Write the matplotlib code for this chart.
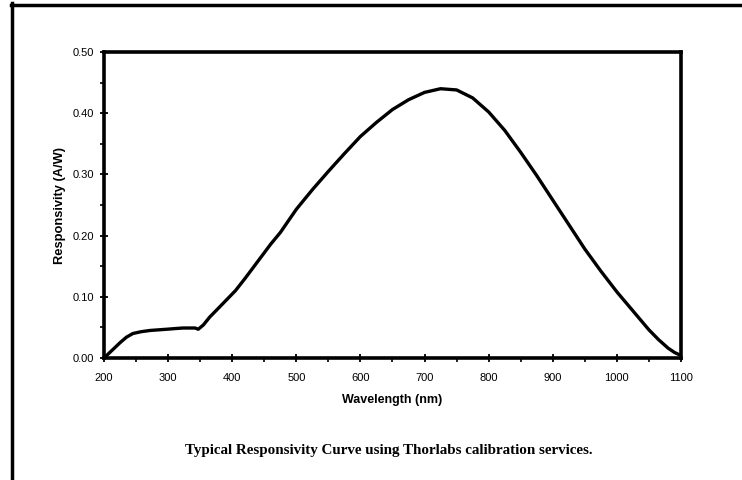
import numpy as np
import matplotlib.pyplot as plt
from matplotlib.lines import Line2D
from matplotlib.ticker import MultipleLocator, FormatStrFormatter

# responsivity curve
wavelength = [200, 212, 225, 235, 245, 258, 272, 285, 298, 310, 323, 335, 342, 347,
              355, 365, 380, 392, 405, 420, 440, 460, 475, 500, 525, 550, 575, 600,
              625, 650, 675, 700, 725, 750, 775, 800, 825, 850, 875, 900, 925, 950,
              975, 1000, 1025, 1050, 1065, 1080, 1090, 1100]
responsivity = [0.0, 0.012, 0.025, 0.034, 0.040, 0.043, 0.045, 0.046, 0.047, 0.048,
                0.049, 0.049, 0.049, 0.047, 0.054, 0.067, 0.083, 0.096, 0.110, 0.130,
                0.158, 0.186, 0.205, 0.243, 0.275, 0.305, 0.334, 0.362, 0.385, 0.406,
                0.422, 0.434, 0.440, 0.438, 0.425, 0.402, 0.372, 0.336, 0.298, 0.258,
                0.218, 0.178, 0.142, 0.108, 0.077, 0.046, 0.030, 0.016, 0.009, 0.004]

x_ticks = list(range(200, 1101, 100))
y_ticks = [0.0, 0.1, 0.2, 0.3, 0.4, 0.5]

fig = plt.figure(figsize=(7.42, 4.8), dpi=100)
ax = fig.add_axes([104/742, 1-358/480, 577/742, 306/480])

ax.plot(wavelength, responsivity, color="black", lw=2.4,
        solid_capstyle="round", solid_joinstyle="round")

ax.set_xlim(200, 1100)
ax.set_ylim(0, 0.5)
ax.set_xticks(x_ticks)
ax.set_yticks(y_ticks)
ax.xaxis.set_minor_locator(MultipleLocator(50))
ax.yaxis.set_minor_locator(MultipleLocator(0.05))
ax.yaxis.set_major_formatter(FormatStrFormatter("%.2f"))

for s in ax.spines.values():
    s.set_linewidth(2.6)
ax.tick_params(which="major", direction="inout", length=6, width=1.3,
               labelsize=8, colors="black")
ax.tick_params(axis="x", which="major", pad=8)
ax.tick_params(axis="y", which="major", pad=4)
ax.tick_params(which="minor", direction="out", length=3, width=1.2)
for lab in ax.get_xticklabels() + ax.get_yticklabels():
    lab.set_family("Liberation Sans")

ax.set_xlabel("Wavelength (nm)", fontsize=9, fontweight="bold",
              family="Liberation Sans", labelpad=8)
ax.set_ylabel("Responsivity (A/W)", fontsize=9.3, fontweight="bold",
              family="Liberation Sans", labelpad=5)

fig.text(389/742, 1-454/480, "Typical Responsivity Curve using Thorlabs calibration services.",
         ha="center", va="baseline", fontsize=10.8, fontweight="bold", family="Liberation Serif")

# page frame (left and top edges)
fig.add_artist(Line2D([12/742, 12/742], [0, 1-3/480], transform=fig.transFigure,
                      color="black", lw=2.5))
fig.add_artist(Line2D([11/742, 1], [1-4.5/480, 1-4.5/480], transform=fig.transFigure,
                      color="black", lw=2.5))

fig.savefig("out.png", dpi=100)
